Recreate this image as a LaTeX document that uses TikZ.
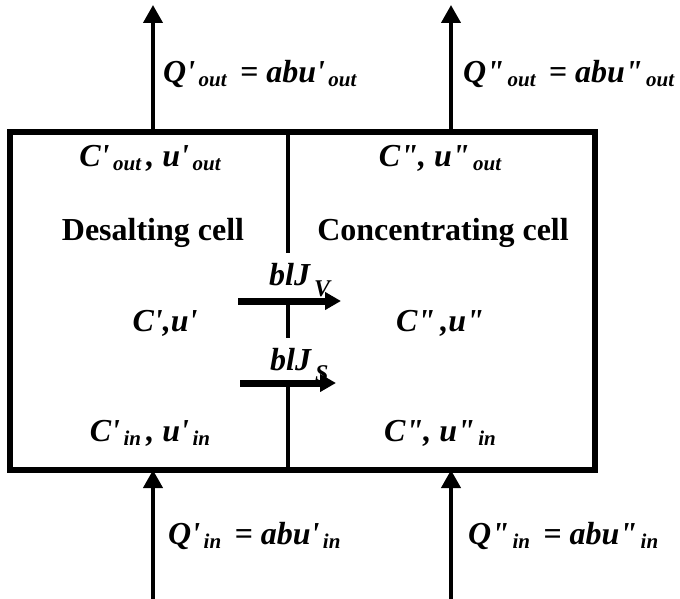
\documentclass[tikz,border=0pt]{standalone}
\usepackage{fontspec}
\setmainfont{Liberation Serif}
\usetikzlibrary{arrows.meta,positioning}

\newcommand\prm{\textquotesingle}
\newcommand\dprm{\textquotedbl}
\newcommand\subx[1]{\raisebox{-4pt}{\fontsize{21}{21}\selectfont\,#1}}
\newcommand\subflux[1]{\raisebox{-11pt}{\fontsize{24}{24}\selectfont\,#1}}

\tikzset{
  lbl/.style={font=\fontsize{32}{38}\selectfont\bfseries\itshape, inner sep=0pt, anchor=base},
  celltitle/.style={font=\fontsize{32}{38}\selectfont\bfseries, inner sep=0pt, anchor=base},
  wall/.style={line width=5.5pt},
  membrane/.style={line width=3.5pt},
  flow/.style={line width=4pt, -{Triangle[length=18pt,width=19pt]}},
  flux/.style={line width=7pt, -{Triangle[length=16pt,width=17pt]}},
}

\begin{document}
\begin{tikzpicture}[x=1pt,y=-1pt]
  \useasboundingbox (0,0) rectangle (680,599);

  % cell walls
  \coordinate (nw) at (10,132);
  \coordinate (se) at (595,470);
  \draw[wall] (nw) rectangle (se);

  % membrane with its two gaps
  \coordinate (m1) at (288,132);
  \coordinate (m2) at (288,253);
  \coordinate (m3) at (288,304);
  \coordinate (m4) at (288,338);
  \coordinate (m5) at (288,386);
  \coordinate (m6) at (288,470);
  \draw[membrane] (m1) -- (m2) (m3) -- (m4) (m5) -- (m6);

  % inlet and outlet streams
  \coordinate (inL) at (153,599);
  \coordinate (inR) at (451,599);
  \coordinate (outL) at (153,5);
  \coordinate (outR) at (451,5);
  \draw[flow] (inL) -- (inL |- se);
  \draw[flow] (inR) -- (inR |- se);
  \draw[flow] (outL |- nw) -- (outL);
  \draw[flow] (outR |- nw) -- (outR);

  % fluxes through the membrane
  \coordinate (jvA) at (238,301);
  \coordinate (jvB) at (341,301);
  \coordinate (jsA) at (240,383);
  \coordinate (jsB) at (336,383);
  \draw[flux] (jvA) -- (jvB);
  \draw[flux] (jsA) -- (jsB);
  \node[lbl, anchor=base west] (jvlbl) at (269,285) {blJ\subflux{V}};
  \node[lbl, anchor=base west] (jslbl) at (270,370) {blJ\subflux{S}};

  % flow rates
  \node[lbl, anchor=base west] (qoutL) at (163,83) {Q\prm\subx{out}\, = abu\prm\subx{out}};
  \node[lbl, anchor=base west] (qoutR) at (463,83) {Q\dprm\subx{out}\, = abu\dprm\subx{out}};
  \node[lbl, anchor=base west] (qinL) at (168,544) {Q\prm\subx{in}\, = abu\prm\subx{in}};
  \node[lbl, anchor=base west] (qinR) at (468,544) {Q\dprm\subx{in}\, = abu\dprm\subx{in}};

  % states in the cells
  \node[lbl] (cout1) at (150,166) {C\prm\subx{out}\,, u\prm\subx{out}};
  \node[lbl] (cout2) at (440,166) {C\dprm, u\dprm\subx{out}};
  \node[celltitle] (desal) at (153,240) {Desalting cell};
  \node[celltitle] (conc) at (443,240) {Concentrating cell};
  \node[lbl] (cmid1) at (165,331) {C\prm,u\prm};
  \node[lbl] (cmid2) at (440,331) {C\dprm\,,u\dprm};
  \node[lbl] (cin1) at (150,441) {C\prm\subx{in}\,, u\prm\subx{in}};
  \node[lbl] (cin2) at (440,441) {C\dprm, u\dprm\subx{in}};
\end{tikzpicture}
\end{document}
